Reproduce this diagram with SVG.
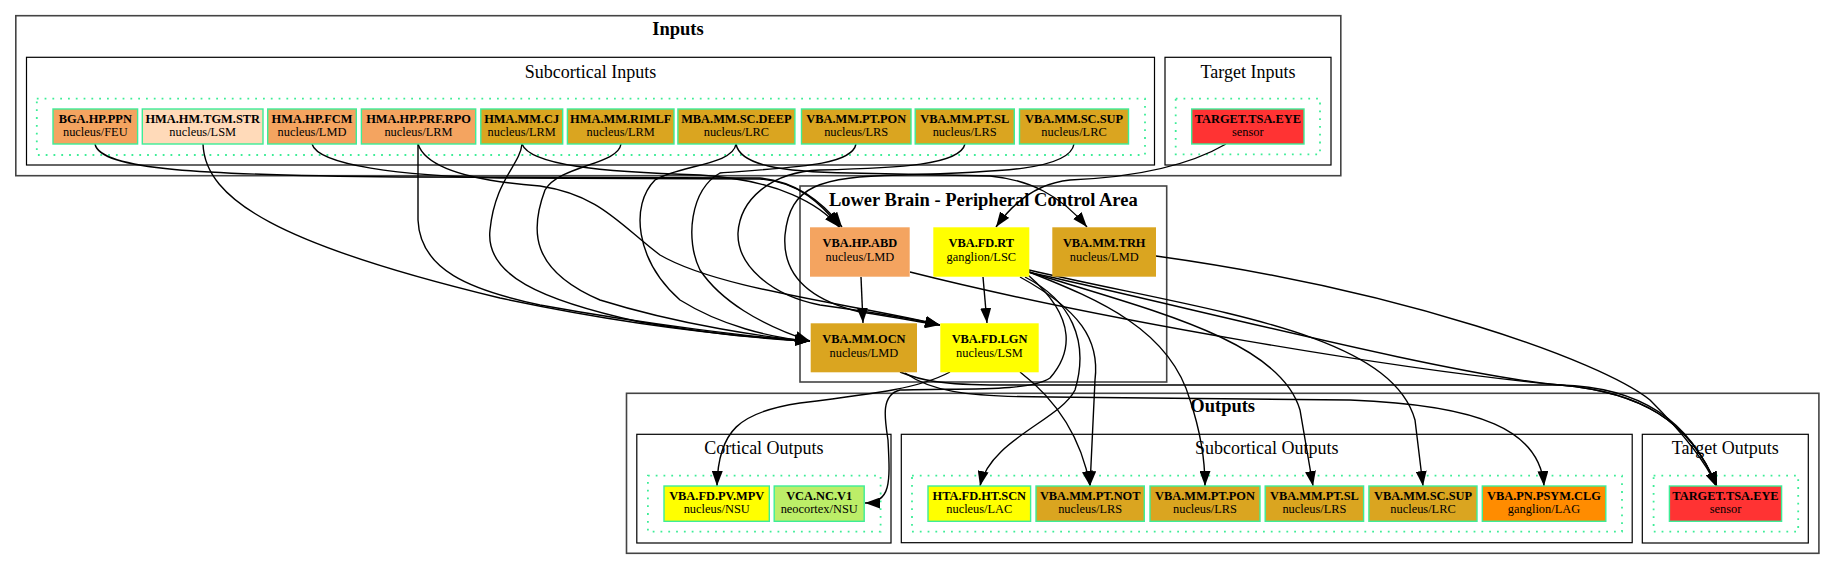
<svg xmlns="http://www.w3.org/2000/svg" width="1835" height="569" viewBox="0 0 1835 569">
<style>
text{font-family:"Liberation Serif","Times New Roman",serif;fill:#000}
.t1{font-size:12.4px;font-weight:bold;text-anchor:middle}
.t2{font-size:12.4px;text-anchor:middle}
.cl{font-size:18px;text-anchor:middle}
.clb{font-size:18.5px;font-weight:bold;text-anchor:middle}
.outer{fill:none;stroke:#444;stroke-width:1.6}
.inner{fill:none;stroke:#000;stroke-width:1.2}
.dot{fill:none;stroke:#3ded97;stroke-width:1.8;stroke-dasharray:1.8 6}
.nb{stroke:#3ded97;stroke-width:1.4}
.e{fill:none;stroke:#000;stroke-width:1.4;marker-end:url(#ah)}
</style>
<defs>
<marker id="ah" markerUnits="userSpaceOnUse" markerWidth="15" markerHeight="11" viewBox="0 0 15 11" refX="15" refY="5.5" orient="auto">
<path d="M0,0 L15,5.5 L0,11 z" fill="#000"/>
</marker>
</defs>
<rect width="1835" height="569" fill="#fff"/>

<g id="clusters">
<rect class="outer" x="15.8" y="15.7" width="1325" height="160"/>
<text class="clb" x="678" y="35">Inputs</text>
<rect class="inner" x="26.5" y="57.3" width="1128" height="107.7"/>
<text class="cl" x="590.5" y="77.5">Subcortical Inputs</text>
<rect class="dot" x="36.8" y="98.7" width="1108.2" height="56.3"/>
<rect class="inner" x="1165" y="57.3" width="166" height="107.7"/>
<text class="cl" x="1248" y="77.5">Target Inputs</text>
<rect class="dot" x="1175.7" y="98.7" width="144.3" height="55.6"/>
<rect class="outer" x="800" y="186" width="366.7" height="196"/>
<text class="clb" x="983.3" y="205.7">Lower Brain - Peripheral Control Area</text>
<rect class="outer" x="626.5" y="393.3" width="1192.4" height="160"/>
<text class="clb" x="1222.7" y="412">Outputs</text>
<rect class="inner" x="636.8" y="434.3" width="254.2" height="108.7"/>
<text class="cl" x="763.9" y="454.3">Cortical Outputs</text>
<rect class="dot" x="647.9" y="475.7" width="232.7" height="56"/>
<rect class="inner" x="901.3" y="434.3" width="730.9" height="108.4"/>
<text class="cl" x="1266.8" y="454.3">Subcortical Outputs</text>
<rect class="dot" x="912" y="475.7" width="710" height="56"/>
<rect class="inner" x="1642.3" y="434.3" width="166" height="108.7"/>
<text class="cl" x="1725.3" y="454.3">Target Outputs</text>
<rect class="dot" x="1653.6" y="475.7" width="144.6" height="56"/>
</g>

<g id="connectors">
<path class="e" d="M1226,144 C1190,165 1140,177 1070,180 C1040,183 1015,200 996,227"/>
<path class="e" d="M95,144 C100,170 200,175 400,177 L760,178 C800,182 825,205 842,227"/>
<path class="e" d="M312,144 C318,165 400,176 500,178 L760,179 C800,182 822,205 840,227"/>
<path class="e" d="M522,144 C530,165 600,172 700,175 C780,180 820,205 839,227"/>
<path class="e" d="M203,144 C205,200 280,245 500,298 C650,330 760,338 810,341"/>
<path class="e" d="M418,144 L418,220 C420,270 470,290 540,305 C650,325 760,338 810,341"/>
<path class="e" d="M418,144 C425,165 460,180 540,186 C600,195 620,225 660,255 C720,290 860,305 940,325"/>
<path class="e" d="M522,144 C520,165 495,180 490,230 C485,275 540,300 640,322 C720,335 780,340 810,341"/>
<path class="e" d="M621,144 C618,165 560,165 545,190 C530,230 530,270 600,300 C680,325 770,338 810,341"/>
<path class="e" d="M736,144 C733,165 680,165 655,180 C630,205 635,260 680,300 C720,325 770,338 810,341"/>
<path class="e" d="M856,144 C852,165 800,167 720,173 C690,190 685,240 700,270 C720,300 760,325 810,341"/>
<path class="e" d="M965,144 C960,165 900,168 820,170 C770,172 740,200 738,233 C737,265 770,295 820,305 C870,312 910,318 940,325"/>
<path class="e" d="M1074,144 C1070,170 1000,172 900,175 C820,177 790,185 785,235 C782,275 810,300 860,312 C900,318 920,322 940,325"/>
<path class="e" d="M736,144 C740,165 780,172 850,173 L990,176 C1030,180 1060,195 1087,227"/>
<path class="e" d="M861,277 L863,323"/>
<path class="e" d="M983,277 L987,323"/>
<path class="e" d="M910,272 C1100,320 1400,370 1560,385 C1640,392 1690,420 1717,487"/>
<path class="e" d="M1156,256 C1400,290 1600,360 1650,400 C1680,430 1705,460 1717,487"/>
<path class="e" d="M1028,272 C1200,310 1450,375 1560,385 C1640,392 1690,420 1717,487"/>
<path class="e" d="M900,372 C920,380 940,385 1000,385 L1560,385 C1640,387 1690,420 1717,487"/>
<path class="e" d="M905,373 C930,390 960,397 1050,397 L1350,400 C1480,405 1540,430 1544,486"/>
<path class="e" d="M1028,275 C1080,320 1070,355 1050,378 C1030,392 960,388 900,390 C880,395 885,420 888,440 C890,480 892,503 865,503"/>
<path class="e" d="M1025,277 C1070,300 1090,340 1075,390 C1060,420 990,440 980,486"/>
<path class="e" d="M1020,277 C1080,310 1100,340 1095,380 L1090,486"/>
<path class="e" d="M1020,372 C1050,395 1080,430 1090,486"/>
<path class="e" d="M950,372 C920,388 880,393 800,403 C740,412 718,430 717,486"/>
<path class="e" d="M1029,272 C1100,300 1170,330 1190,400 C1200,430 1205,460 1205,486"/>
<path class="e" d="M1029,272 C1150,310 1280,340 1300,410 L1313,486"/>
<path class="e" d="M1029,270 C1200,310 1390,330 1415,420 L1423,486"/>
</g>

<g id="n_BGA_HP_PPN"><rect class="nb" x="53" y="109" width="84.6" height="35" fill="#F4A460"/><text class="t1" x="95.3" y="123">BGA.HP.PPN</text><text class="t2" x="95.3" y="135.5">nucleus/FEU</text></g>
<g id="n_HMA_HM_TGM_STR"><rect class="nb" x="142.3" y="109" width="120.7" height="35" fill="#FFDAB9"/><text class="t1" x="202.7" y="123">HMA.HM.TGM.STR</text><text class="t2" x="202.7" y="135.5">nucleus/LSM</text></g>
<g id="n_HMA_HP_FCM"><rect class="nb" x="267.7" y="109" width="88.6" height="35" fill="#F4A460"/><text class="t1" x="312" y="123">HMA.HP.FCM</text><text class="t2" x="312" y="135.5">nucleus/LMD</text></g>
<g id="n_HMA_HP_PRF_RPO"><rect class="nb" x="361.4" y="109" width="114.3" height="35" fill="#F4A460"/><text class="t1" x="418.5" y="123">HMA.HP.PRF.RPO</text><text class="t2" x="418.5" y="135.5">nucleus/LRM</text></g>
<g id="n_HMA_MM_CJ"><rect class="nb" x="480.8" y="109" width="81.9" height="35" fill="#DAA520"/><text class="t1" x="521.7" y="123">HMA.MM.CJ</text><text class="t2" x="521.7" y="135.5">nucleus/LRM</text></g>
<g id="n_HMA_MM_RIMLF"><rect class="nb" x="567.4" y="109" width="106.6" height="35" fill="#DAA520"/><text class="t1" x="620.7" y="123">HMA.MM.RIMLF</text><text class="t2" x="620.7" y="135.5">nucleus/LRM</text></g>
<g id="n_MBA_MM_SC_DEEP"><rect class="nb" x="677.9" y="109" width="117" height="35" fill="#DAA520"/><text class="t1" x="736.4" y="123">MBA.MM.SC.DEEP</text><text class="t2" x="736.4" y="135.5">nucleus/LRC</text></g>
<g id="n_in_VBA_MM_PT_PON"><rect class="nb" x="801.5" y="109" width="109.5" height="35" fill="#DAA520"/><text class="t1" x="856.2" y="123">VBA.MM.PT.PON</text><text class="t2" x="856.2" y="135.5">nucleus/LRS</text></g>
<g id="n_in_VBA_MM_PT_SL"><rect class="nb" x="915.2" y="109" width="99.1" height="35" fill="#DAA520"/><text class="t1" x="964.7" y="123">VBA.MM.PT.SL</text><text class="t2" x="964.7" y="135.5">nucleus/LRS</text></g>
<g id="n_in_VBA_MM_SC_SUP"><rect class="nb" x="1019.5" y="109" width="109" height="35" fill="#DAA520"/><text class="t1" x="1074" y="123">VBA.MM.SC.SUP</text><text class="t2" x="1074" y="135.5">nucleus/LRC</text></g>
<g id="n_in_TARGET_TSA_EYE"><rect class="nb" x="1191.7" y="109" width="112.3" height="35" fill="#FF3333"/><text class="t1" x="1247.8" y="123">TARGET.TSA.EYE</text><text class="t2" x="1247.8" y="135.5">sensor</text></g>

<g id="n_VBA_HP_ABD"><rect x="810" y="227.3" width="99.7" height="49.4" fill="#F4A460"/><text class="t1" x="859.9" y="246.7">VBA.HP.ABD</text><text class="t2" x="859.9" y="260.7">nucleus/LMD</text></g>
<g id="n_VBA_FD_RT"><rect x="933.3" y="227.3" width="96" height="49.4" fill="#FFFF00"/><text class="t1" x="981.3" y="246.7">VBA.FD.RT</text><text class="t2" x="981.3" y="260.7">ganglion/LSC</text></g>
<g id="n_VBA_MM_TRH"><rect x="1052.3" y="227.3" width="103.7" height="49.4" fill="#DAA520"/><text class="t1" x="1104.2" y="246.7">VBA.MM.TRH</text><text class="t2" x="1104.2" y="260.7">nucleus/LMD</text></g>
<g id="n_VBA_MM_OCN"><rect x="810.7" y="323.3" width="106.3" height="49" fill="#DAA520"/><text class="t1" x="863.9" y="343.3">VBA.MM.OCN</text><text class="t2" x="863.9" y="357">nucleus/LMD</text></g>
<g id="n_VBA_FD_LGN"><rect x="940.3" y="323.3" width="98.4" height="49" fill="#FFFF00"/><text class="t1" x="989.5" y="343.3">VBA.FD.LGN</text><text class="t2" x="989.5" y="357">nucleus/LSM</text></g>

<g id="n_VBA_FD_PV_MPV"><rect class="nb" x="664" y="486" width="105.3" height="35.3" fill="#FFFF00"/><text class="t1" x="716.7" y="500">VBA.FD.PV.MPV</text><text class="t2" x="716.7" y="512.5">nucleus/NSU</text></g>
<g id="n_VCA_NC_V1"><rect class="nb" x="774.2" y="486" width="90" height="35.3" fill="#BCEE68"/><text class="t1" x="819.2" y="500">VCA.NC.V1</text><text class="t2" x="819.2" y="512.5">neocortex/NSU</text></g>
<g id="n_HTA_FD_HT_SCN"><rect class="nb" x="928" y="486" width="102.6" height="35.3" fill="#FFFF00"/><text class="t1" x="979.3" y="500">HTA.FD.HT.SCN</text><text class="t2" x="979.3" y="512.5">nucleus/LAC</text></g>
<g id="n_VBA_MM_PT_NOT"><rect class="nb" x="1036" y="486" width="108.3" height="35.3" fill="#DAA520"/><text class="t1" x="1090.2" y="500">VBA.MM.PT.NOT</text><text class="t2" x="1090.2" y="512.5">nucleus/LRS</text></g>
<g id="n_out_VBA_MM_PT_PON"><rect class="nb" x="1150" y="486" width="110" height="35.3" fill="#DAA520"/><text class="t1" x="1205" y="500">VBA.MM.PT.PON</text><text class="t2" x="1205" y="512.5">nucleus/LRS</text></g>
<g id="n_out_VBA_MM_PT_SL"><rect class="nb" x="1265.2" y="486" width="98.4" height="35.3" fill="#DAA520"/><text class="t1" x="1314.4" y="500">VBA.MM.PT.SL</text><text class="t2" x="1314.4" y="512.5">nucleus/LRS</text></g>
<g id="n_out_VBA_MM_SC_SUP"><rect class="nb" x="1368.9" y="486" width="108.1" height="35.3" fill="#DAA520"/><text class="t1" x="1423" y="500">VBA.MM.SC.SUP</text><text class="t2" x="1423" y="512.5">nucleus/LRC</text></g>
<g id="n_VBA_PN_PSYM_CLG"><rect class="nb" x="1482.3" y="486" width="123.5" height="35.3" fill="#FF8C00"/><text class="t1" x="1544" y="500">VBA.PN.PSYM.CLG</text><text class="t2" x="1544" y="512.5">ganglion/LAG</text></g>
<g id="n_out_TARGET_TSA_EYE"><rect class="nb" x="1669.4" y="486" width="112.2" height="35.3" fill="#FF3333"/><text class="t1" x="1725.5" y="500">TARGET.TSA.EYE</text><text class="t2" x="1725.5" y="512.5">sensor</text></g>
</svg>
